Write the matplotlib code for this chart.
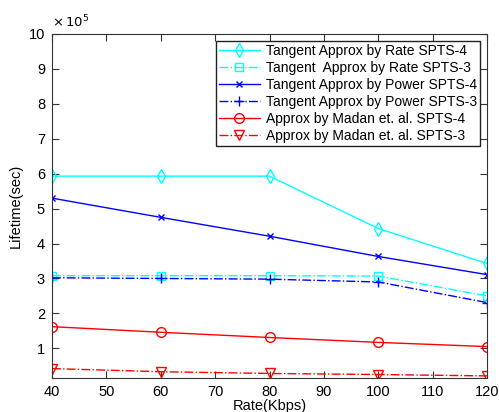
import numpy as np
import matplotlib.pyplot as plt

plt.rcParams['font.family'] = ['Liberation Sans', 'DejaVu Sans']

# Lifetime vs rate, values in units of 1e5 sec
rate = [40, 60, 80, 100, 120]
rate_spts4 = [5.93, 5.93, 5.93, 4.43, 3.43]
rate_spts3 = [3.08, 3.08, 3.08, 3.07, 2.50]
power_spts4 = [5.30, 4.75, 4.21, 3.63, 3.11]
power_spts3 = [3.02, 3.00, 2.98, 2.90, 2.31]
madan_spts4 = [1.62, 1.46, 1.31, 1.17, 1.05]
madan_spts3 = [0.42, 0.33, 0.28, 0.25, 0.21]

labels = ["Tangent Approx by Rate SPTS-4", "Tangent  Approx by Rate SPTS-3",
          "Tangent Approx by Power SPTS-4", "Tangent Approx by Power SPTS-3",
          "Approx by Madan et. al. SPTS-4", "Approx by Madan et. al. SPTS-3"]

fig = plt.figure(figsize=(4.99, 4.12), dpi=100)
ax = fig.add_axes([0.1042, 0.0825, 0.8718, 0.835])

ms = 6
ax.plot(rate, rate_spts4, '-', color='#00ffff', marker='d', ms=ms + 1,
        mfc='none', lw=1, label=labels[0])
ax.plot(rate, rate_spts3, '-.', color='#00ffff', marker='s', ms=ms,
        mfc='none', lw=1, label=labels[1])
ax.plot(rate, power_spts4, '-', color='#0000ff', marker='x', ms=ms - 1,
        lw=1, label=labels[2])
ax.plot(rate, power_spts3, '-.', color='#0000ff', marker='+', ms=ms + 1,
        lw=1, label=labels[3])
ax.plot(rate, madan_spts4, '-', color='#ff0000', marker='o', ms=ms + 1,
        mfc='none', lw=1, label=labels[4])
ax.plot(rate, madan_spts3, '-.', color='#ff0000', marker='v', ms=ms + 1,
        mfc='none', lw=1, label=labels[5])

ax.set_xlim(40, 120)
ax.set_ylim(0.15, 10)
ax.set_xticks(range(40, 121, 10))
ax.set_yticks(range(1, 11))
ax.text(0.0, 1.012, r"$\times\,10^5$", transform=ax.transAxes, fontsize=9.5,
        ha='left', va='bottom')

for s in ax.spines.values():
    s.set_color('#333333')
ax.tick_params(direction='in', top=True, right=True, labelsize=10.5, length=5,
               color='#333333', pad=5)
ax.set_xlabel("Rate(Kbps)", fontsize=10.5, labelpad=0)
ax.set_ylabel("Lifetime(sec)", fontsize=10.5, labelpad=4)

leg = ax.legend(loc='upper right', fontsize=10, fancybox=False, framealpha=1,
                edgecolor='#222222', borderpad=0.2, labelspacing=0.22,
                handlelength=3, handletextpad=0.4, borderaxespad=0,
                bbox_to_anchor=(0.983, 0.98))
leg.get_frame().set_linewidth(1)

fig.savefig("out.png", dpi=100)
